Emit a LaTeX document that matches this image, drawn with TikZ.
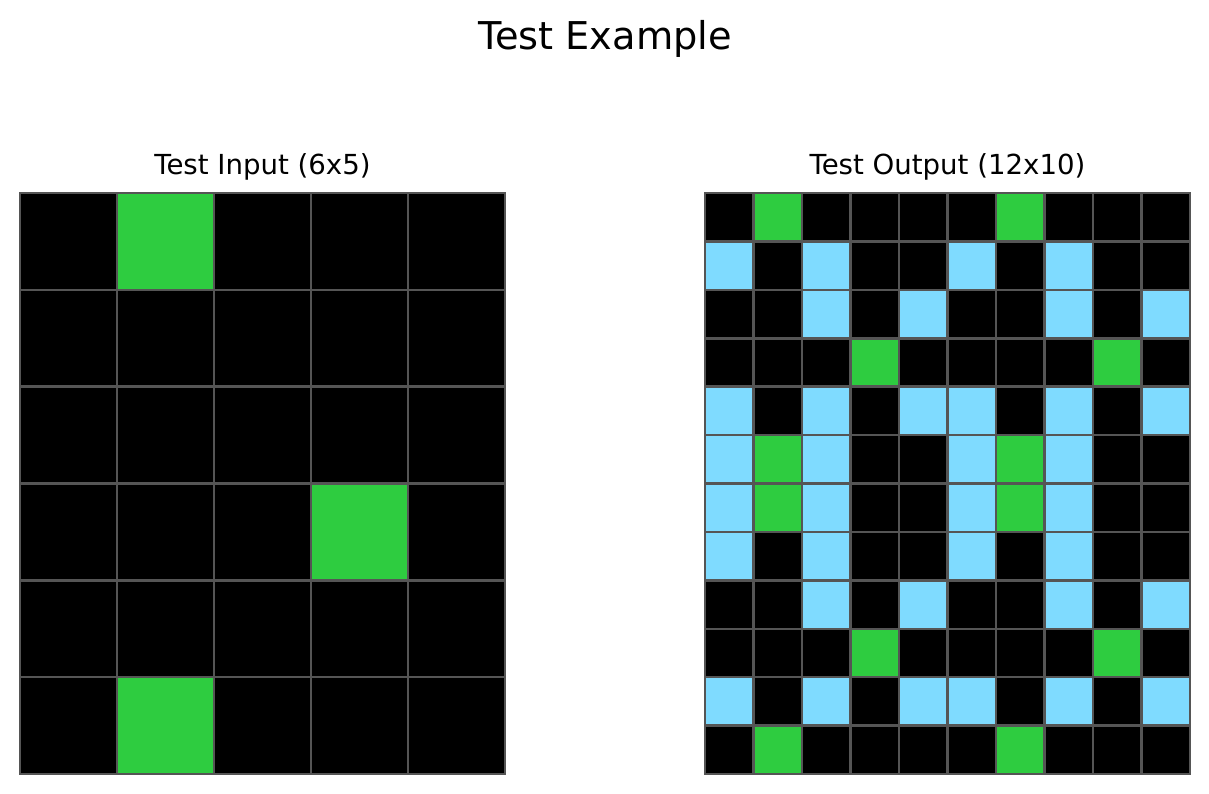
\documentclass[tikz,border=0pt]{standalone}
\usepackage{fontspec}
\setmainfont{DejaVu Sans}
\definecolor{cellK}{HTML}{000000}
\definecolor{cellG}{HTML}{2ECC40}
\definecolor{cellC}{HTML}{7FDBFF}
\definecolor{gridgray}{HTML}{555555}
\tikzset{
  cellbox/.style={draw=gridgray, line width=2.5bp},
  titletext/.style={font=\fontsize{38.3bp}{41bp}\selectfont, anchor=base, inner sep=0pt},
  subtext/.style={font=\fontsize{27.6bp}{30bp}\selectfont, anchor=base, inner sep=0pt}
}
\begin{document}
\begin{tikzpicture}[x=1bp, y=-1bp]
\useasboundingbox (0,0) rectangle (1209,794);
\fill[white] (0,0) rectangle (1209,794);
\node[titletext] (title) at (605,49.5) {Test Example};
\node[subtext] (tin) at (262.5,174.5) {Test Input (6x5)};
\node[subtext] (tout) at (947.5,174.5) {Test Output (12x10)};
% input grid
\foreach \row [count=\r from 0] in {
  {K,G,K,K,K},
  {K,K,K,K,K},
  {K,K,K,K,K},
  {K,K,K,G,K},
  {K,K,K,K,K},
  {K,G,K,K,K}}{
  \foreach \c [count=\i from 0] in \row {
    \path[cellbox, fill=cell\c] ({20+97*\i},{193+581/6*\r}) rectangle ++(97,{581/6});
  }
}
% output grid
\foreach \row [count=\r from 0] in {
  {K,G,K,K,K,K,G,K,K,K},
  {C,K,C,K,K,C,K,C,K,K},
  {K,K,C,K,C,K,K,C,K,C},
  {K,K,K,G,K,K,K,K,G,K},
  {C,K,C,K,C,C,K,C,K,C},
  {C,G,C,K,K,C,G,C,K,K},
  {C,G,C,K,K,C,G,C,K,K},
  {C,K,C,K,K,C,K,C,K,K},
  {K,K,C,K,C,K,K,C,K,C},
  {K,K,K,G,K,K,K,K,G,K},
  {C,K,C,K,C,C,K,C,K,C},
  {K,G,K,K,K,K,G,K,K,K}}{
  \foreach \c [count=\i from 0] in \row {
    \path[cellbox, fill=cell\c] ({705+48.5*\i},{193+581/12*\r}) rectangle ++(48.5,{581/12});
  }
}
\end{tikzpicture}
\end{document}
